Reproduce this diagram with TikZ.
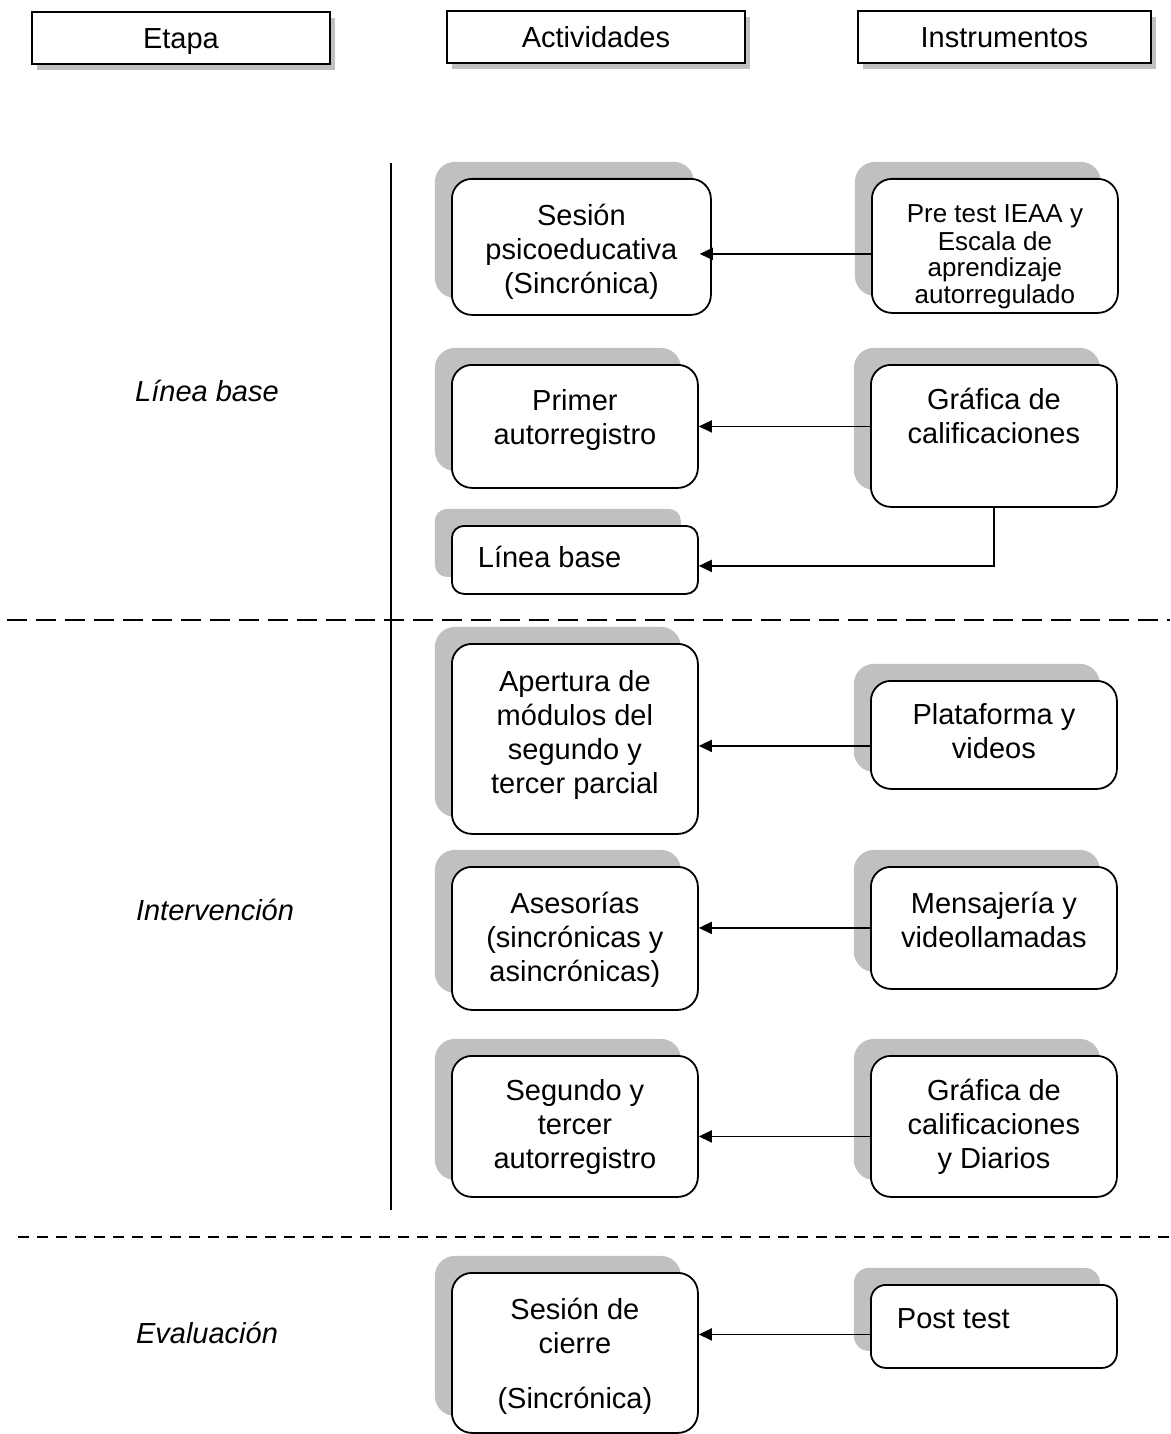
\documentclass[tikz,border=0pt]{standalone}
\usepackage{fontspec}
\setmainfont{Liberation Sans}
\usetikzlibrary{arrows.meta,shadows}

\definecolor{sombra}{RGB}{192,192,192}

% box text: width, height, gap above first line, text
\newcommand{\cajatexto}[4]{\parbox[c][#2][t]{#1}{\centering\vspace*{#3}\strut#4}}
\newcommand{\cajaizq}[4]{\parbox[c][#2][t]{#1}{\raggedright\vspace*{#3}\hspace*{26pt}\strut#4}}

\begin{document}
\begin{tikzpicture}[x=1pt, y=-1pt]
    \tikzstyle{every node}=[inner sep=0pt, font=\fontsize{29}{34}\selectfont];
    \tikzstyle{titulo}=[draw=black, line width=1.8pt, fill=white, anchor=north west,
        minimum height=52pt, text height=25pt, text depth=3pt,
        general shadow={fill=sombra, shadow xshift=5pt, shadow yshift=-6pt}];
    \tikzstyle{caja}=[draw=black, line width=1.8pt, fill=white, rounded corners=20pt, anchor=north west,
        general shadow={fill=sombra, shadow xshift=-17pt, shadow yshift=17pt}];
    \tikzstyle{flecha}=[line width=1.8pt, -{Triangle[length=13pt, width=12pt]}];

    \useasboundingbox (0,0) rectangle (1170,1434);

    % headers
    \node at (31,11) (etapa) [titulo, minimum width=298pt] {Etapa};
    \node at (446,10) (actividades) [titulo, minimum width=298pt] {Actividades};
    \node at (857,10) (instrumentos) [titulo, minimum width=293pt] {Instrumentos};

    % stages
    \node at (207,391) (lbase) {\itshape Línea base};
    \node at (215,910) (interv) {\itshape Intervención};
    \node at (207,1333) (evalua) {\itshape Evaluación};

    \draw[line width=1.8pt] (391,163) -- (391,1210);
    \draw[line width=2.5pt, dash pattern=on 20pt off 9pt] (7,620) -- (1170,620);
    \draw[line width=2.5pt, dash pattern=on 11pt off 8pt] (18,1237) -- (1170,1237);

    % activities
    \node at (451,178) (sesion) [caja] {\cajatexto{259pt}{136pt}{23pt}{Sesión\\psicoeducativa\\(Sincrónica)}};
    \node at (451,364) (primer) [caja] {\cajatexto{246pt}{123pt}{22pt}{Primer\\autorregistro}};
    \node at (451,525) (lineabase) [caja, rounded corners=12pt] {\cajaizq{246pt}{68pt}{18pt}{Línea base}};
    \node at (451,643) (apertura) [caja] {\cajatexto{246pt}{190pt}{24pt}{Apertura de\\módulos del\\segundo y\\tercer parcial}};
    \node at (451,866) (asesorias) [caja] {\cajatexto{246pt}{143pt}{23pt}{Asesorías\\(sincrónicas y\\asincrónicas)}};
    \node at (451,1055) (segundo) [caja] {\cajatexto{246pt}{141pt}{21pt}{Segundo y\\tercer\\autorregistro}};
    \node at (451,1272) (cierre) [caja] {\cajatexto{246pt}{160pt}{23pt}{Sesión de\\cierre\\[21pt](Sincrónica)}};

    % instruments
    \node at (871,178) (pretest) [caja, font=\fontsize{26}{26.5}\selectfont] {\cajatexto{246pt}{134pt}{25pt}{Pre test IEAA y\\Escala de\\aprendizaje\\autorregulado}};
    \node at (870,364) (grafica) [caja] {\cajatexto{246pt}{142pt}{21pt}{Gráfica de\\calificaciones}};
    \node at (870,680) (plataforma) [caja] {\cajatexto{246pt}{108pt}{20pt}{Plataforma y\\videos}};
    \node at (870,866) (mensajeria) [caja] {\cajatexto{246pt}{122pt}{23pt}{Mensajería y\\videollamadas}};
    \node at (870,1055) (diarios) [caja] {\cajatexto{246pt}{141pt}{21pt}{Gráfica de\\calificaciones\\y Diarios}};
    \node at (870,1284) (posttest) [caja, rounded corners=15pt] {\cajaizq{246pt}{83pt}{20pt}{Post test}};

    % arrows
    \draw[flecha, shorten >=-12pt] ([yshift=-8pt]pretest.west) -- ([yshift=-8pt]pretest.west -| sesion.east);
    \draw[flecha] (primer.east -| grafica.west) -- (primer.east);
    \draw[flecha] (grafica.south) |- ([yshift=-6pt]lineabase.east);
    \draw[flecha] ([yshift=-7pt]apertura.east -| plataforma.west) -- ([yshift=-7pt]apertura.east);
    \draw[flecha] (mensajeria.west) -- (mensajeria.west -| asesorias.east);
    \draw[flecha] ([yshift=-10pt]segundo.east -| diarios.west) -- ([yshift=-10pt]segundo.east);
    \draw[flecha] ([yshift=-8pt]posttest.west) -- ([yshift=-8pt]posttest.west -| cierre.east);
\end{tikzpicture}
\end{document}
